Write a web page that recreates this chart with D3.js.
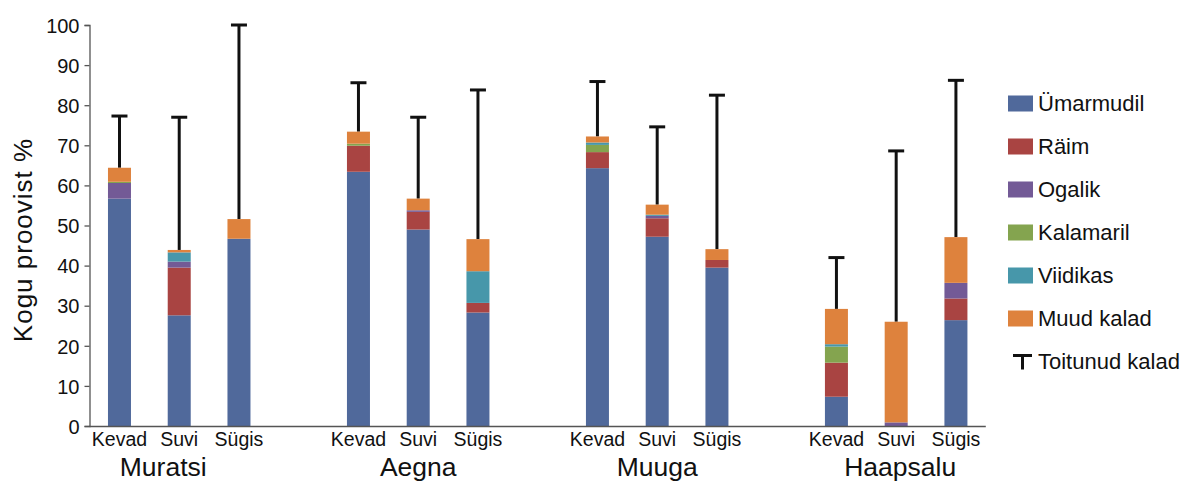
<!DOCTYPE html>
<html><head><meta charset="utf-8">
<script src="https://cdn.jsdelivr.net/npm/d3@7"></script>
<style>body{margin:0;background:#fff}svg{display:block}text{font-family:"Liberation Sans",Arial,sans-serif;fill:#111}</style>
</head><body><svg id="c" width="1181" height="481"></svg>
<script>
const locations = ["Muratsi","Aegna","Muuga","Haapsalu"];
const seasons = ["Kevad","Suvi","Sügis"];
const seriesNames = ["Ümarmudil","Räim","Ogalik","Kalamaril","Viidikas","Muud kalad"];
const colors = ["#50699B","#A94442","#735A96","#84A44F","#4797AA","#DE823D"];
const yTicks = [0,10,20,30,40,50,60,70,80,90,100];
// values per series, order: Muratsi K,S,Sü, Aegna K,S,Sü, Muuga K,S,Sü, Haapsalu K,S,Sü
const umarmudil = [56.7,27.6,46.7, 63.4,49.0,28.3, 64.3,47.2,39.5, 7.3,0,26.4];
const raim      = [0,11.9,0,       6.5,4.4,2.4,    4.0,4.6,1.9,    8.5,0,5.4];
const ogalik    = [3.9,1.5,0,      0,0.4,0,        0,0.6,0,        0,0.9,3.9];
const kalamaril = [0.3,0,0,        0.5,0,0,        1.8,0,0,        4.0,0,0];
const viidikas  = [0,2.3,0,        0,0,7.9,        0.6,0.3,0,      0.6,0,0];
const muud      = [3.5,0.6,4.9,    3.0,2.9,8.0,    1.5,2.5,2.7,    8.8,25.1,11.4];
const toitunud  = [77.3,77.0,100,  85.6,77.0,83.8, 85.9,74.6,82.5, 42.0,68.6,86.2];
const seriesValues = [umarmudil,raim,ogalik,kalamaril,viidikas,muud];

const svg = d3.select("#c");
// 15 slots: 3 bars per location + an empty slot between locations
const slots = [];
locations.forEach((l,i)=>{ seasons.forEach(s=>slots.push(l+"|"+s)); if(i<locations.length-1) slots.push("gap"+i); });
const x = d3.scaleBand().domain(slots).range([89.6,985.8]).paddingInner(0.615).paddingOuter(0.3075);
const y = d3.scaleLinear().domain([0,100]).range([426,25]);

const rows = [];
locations.forEach((l,li)=>seasons.forEach((s,si)=>{
  const idx = li*3+si; const r = {key:l+"|"+s, err:toitunud[idx]};
  seriesNames.forEach((n,k)=>r[n]=seriesValues[k][idx]); rows.push(r);
}));
const stack = d3.stack().keys(seriesNames)(rows);

// error bars (behind bars)
const eg = svg.append("g");
rows.forEach(r=>{
  const tot = d3.sum(seriesNames,n=>r[n]);
  const cx = x(r.key)+x.bandwidth()/2;
  eg.append("line").attr("x1",cx).attr("x2",cx).attr("y1",y(tot)).attr("y2",y(r.err)).attr("stroke","#111").attr("stroke-width",3);
  eg.append("line").attr("x1",cx-8).attr("x2",cx+8).attr("y1",y(r.err)).attr("y2",y(r.err)).attr("stroke","#111").attr("stroke-width",3);
});

svg.append("g").selectAll("g").data(stack).join("g").attr("fill",(d,i)=>colors[i])
  .selectAll("rect").data(d=>d).join("rect")
  .attr("x",d=>x(d.data.key)).attr("width",x.bandwidth())
  .attr("y",d=>y(d[1])).attr("height",d=>y(d[0])-y(d[1]));

// y axis
const ya = svg.append("g").attr("transform","translate(89.5,0)")
  .call(d3.axisLeft(y).tickValues(yTicks).tickSize(5).tickPadding(5));
ya.select(".domain").attr("stroke","#555").attr("stroke-width",1.3);
ya.selectAll(".tick line").attr("stroke","#555").attr("stroke-width",1.3);
ya.selectAll(".tick text").style("font-size","20px").attr("fill","#111").attr("dy","0.36em");

// x axis line
svg.append("line").attr("x1",89.5).attr("x2",985.8).attr("y1",426.5).attr("y2",426.5).attr("stroke","#555").attr("stroke-width",1.3);

// season labels
rows.forEach(r=>{
  svg.append("text").attr("x",x(r.key)+x.bandwidth()/2).attr("y",446).attr("text-anchor","middle")
    .style("font-size","19.5px").text(r.key.split("|")[1]);
});
// location labels
const locShift = [-16,0,0,4];
locations.forEach((l,i)=>{
  const cx = x(l+"|"+seasons[1])+x.bandwidth()/2 + locShift[i];
  svg.append("text").attr("x",cx).attr("y",476).attr("text-anchor","middle").style("font-size","26.5px").text(l);
});

// y title
svg.append("text").attr("transform","translate(32,240) rotate(-90)").attr("text-anchor","middle")
  .style("font-size","26px").style("letter-spacing","1px").text("Kogu proovist %");

// legend
const lg = svg.append("g");
seriesNames.forEach((n,i)=>{
  const cy = 103.5 + i*43;
  lg.append("rect").attr("x",1008).attr("y",cy-8).attr("width",25).attr("height",16).attr("fill",colors[i]);
  lg.append("text").attr("x",1038).attr("y",cy).attr("dy","0.36em").style("font-size","22px").text(n);
});
const ty = 103.5 + 6*43;
lg.append("line").attr("x1",1013).attr("x2",1032).attr("y1",ty-6).attr("y2",ty-6).attr("stroke","#111").attr("stroke-width",3);
lg.append("line").attr("x1",1022.5).attr("x2",1022.5).attr("y1",ty-6).attr("y2",ty+8).attr("stroke","#111").attr("stroke-width",3);
lg.append("text").attr("x",1038).attr("y",ty).attr("dy","0.36em").style("font-size","22px").text("Toitunud kalad");
</script></body></html>
